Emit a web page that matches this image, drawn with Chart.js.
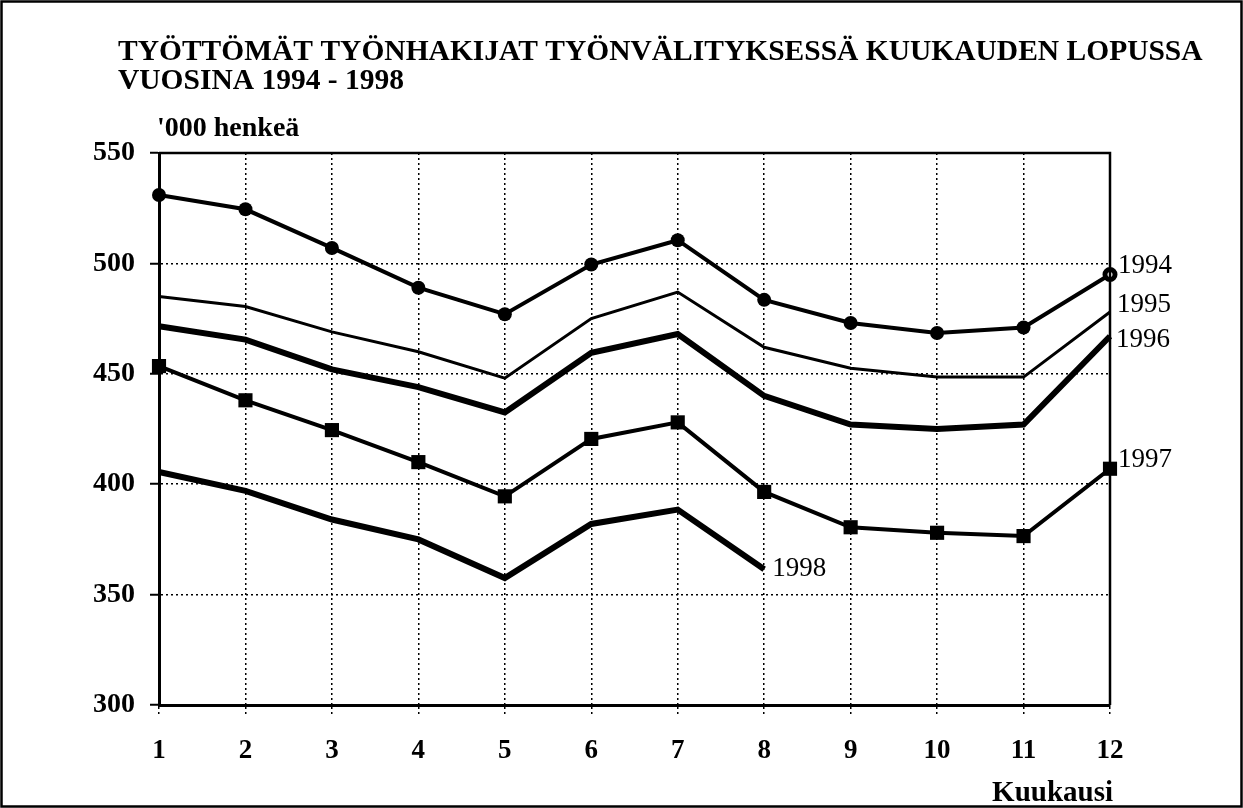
<!DOCTYPE html>
<html>
<head>
<meta charset="utf-8">
<script src="https://cdn.jsdelivr.net/npm/chart.js@4/dist/chart.umd.min.js"></script>
<style>
  html, body { margin: 0; padding: 0; background: #fff; }
  #wrap { width: 1243px; height: 808px; position: relative; }
</style>
</head>
<body>
<div id="wrap"><canvas id="my-chart" width="1243" height="808"></canvas></div>
<script>
'use strict';

// **** Data ****

let months = ['1', '2', '3', '4', '5', '6', '7', '8', '9', '10', '11', '12'];
let years = ['1994', '1995', '1996', '1997', '1998'];

let values1994 = [531, 524.5, 507, 489, 477, 499.5, 510.5, 483.5, 473, 468.5, 471, 495];
let values1995 = [485, 480.5, 469, 460, 448, 475, 487, 462, 452.5, 448.5, 448.5, 478];
let values1996 = [471.5, 465.5, 452, 444, 432.5, 459.5, 468, 440, 427, 425, 427, 467];
let values1997 = [453.5, 438, 424.5, 410, 394.5, 420.5, 428, 396.5, 380.5, 378, 376.5, 407];
let values1998 = [405.5, 397, 384, 375, 357.5, 382, 388.5, 361.5];

let yTicks = [300, 350, 400, 450, 500, 550];

let titleLines = ['TYÖTTÖMÄT TYÖNHAKIJAT TYÖNVÄLITYKSESSÄ KUUKAUDEN LOPUSSA', 'VUOSINA 1994 - 1998'];
let yUnit = '\'000 henkeä';
let xName = 'Kuukausi';

// **** Styles ****

let serif = '"Liberation Serif", "Times New Roman", serif';
let lineWidths = [4, 3, 6, 4, 6];
let pointStyles = ['circle', false, false, 'rect', false];
let pointRadii = [7, 0, 0, 10, 0];
// end label offsets [dx, dy] from the last point
let labelOffsets = [[8, -9], [7, -7], [6, 4], [8, -9], [8, 0]];

// **** Plugins ****

let decorations = {
  id: 'decorations',
  afterDatasetsDraw(chart) {
    let c = chart.ctx;
    let area = chart.chartArea;
    c.save();
    // top and right plot frame
    c.strokeStyle = '#000';
    c.lineWidth = 2.5;
    c.beginPath();
    c.moveTo(area.left, area.top);
    c.lineTo(area.right, area.top);
    c.lineTo(area.right, area.bottom);
    c.stroke();
    // outer frame
    c.lineWidth = 2.5;
    c.strokeRect(1.5, 1.5, chart.width - 3, chart.height - 3);

    // end labels
    c.fillStyle = '#000';
    c.font = '27px ' + serif;
    c.textBaseline = 'middle';
    c.textAlign = 'left';
    chart.data.datasets.forEach(function (ds, i) {
      let meta = chart.getDatasetMeta(i);
      let last = meta.data[meta.data.length - 1];
      c.fillText(ds.label, last.x + labelOffsets[i][0], last.y + labelOffsets[i][1]);
    });

    // title and axis names
    c.font = 'bold 29.5px ' + serif;
    c.textBaseline = 'alphabetic';
    c.fillText(titleLines[0], 118, 60);
    c.fillText(titleLines[1], 118, 89);
    c.font = 'bold 28px ' + serif;
    c.fillText(yUnit, 157, 136);
    c.font = 'bold 29px ' + serif;
    c.textAlign = 'right';
    c.fillText(xName, area.right + 3, 801);
    c.restore();
  }
};

// **** Chart ****

let ctx = document.getElementById('my-chart').getContext('2d');

let allData = [values1994, values1995, values1996, values1997, values1998];

let datasets = [];
for (let i = 0; i < years.length; i++) {
  datasets.push({
    label: years[i],
    data: allData[i],
    borderColor: '#000',
    backgroundColor: '#000',
    borderWidth: lineWidths[i],
    pointStyle: pointStyles[i],
    pointRadius: pointRadii[i],
    pointHoverRadius: pointRadii[i],
    pointBorderWidth: 0,
    tension: 0,
    fill: false
  });
}

// the last 1994 marker is drawn with a small white centre in the original
datasets[0].pointBackgroundColor = function (context) {
  return context.dataIndex === months.length - 1 ? '#fff' : '#000';
};
datasets[0].pointBorderWidth = function (context) {
  return context.dataIndex === months.length - 1 ? 5 : 0;
};
datasets[0].pointRadius = function (context) {
  return context.dataIndex === months.length - 1 ? 5 : 7;
};

let myChartObj = {
  type: 'line',
  data: {
    labels: months,
    datasets: datasets
  },
  options: {
    responsive: false,
    animation: false,
    layout: {
      padding: { left: 0, top: 153, right: 133, bottom: 0 }
    },
    plugins: {
      legend: { display: false },
      tooltip: { enabled: false }
    },
    scales: {
      x: {
        offset: false,
        afterFit(scale) { scale.height = 103; },
        grid: {
          color: '#000',
          lineWidth: 1.5,
          tickLength: 11,
          tickColor: '#000',
          tickWidth: 1.5,
          tickBorderDash: [2, 3]
        },
        border: { display: true, color: '#000', width: 3, dash: [2, 3] },
        ticks: {
          color: '#000',
          padding: 19,
          maxRotation: 0,
          font: { family: serif, size: 27, weight: 'bold' }
        }
      },
      y: {
        min: 300,
        max: 550,
        afterFit(scale) { scale.width = 159; },
        afterBuildTicks(scale) {
          scale.ticks = yTicks.map(function (v) { return { value: v }; });
        },
        grid: {
          color: '#000',
          lineWidth: 1.5,
          tickLength: 9,
          tickColor: '#000',
          tickWidth: 2
        },
        border: { display: true, color: '#000', width: 3, dash: [2, 3] },
        ticks: {
          color: '#000',
          padding: 15,
          font: { family: serif, size: 28, weight: 'bold' }
        }
      }
    }
  },
  plugins: [decorations]
};

new Chart(ctx, myChartObj);
</script>
</body>
</html>
